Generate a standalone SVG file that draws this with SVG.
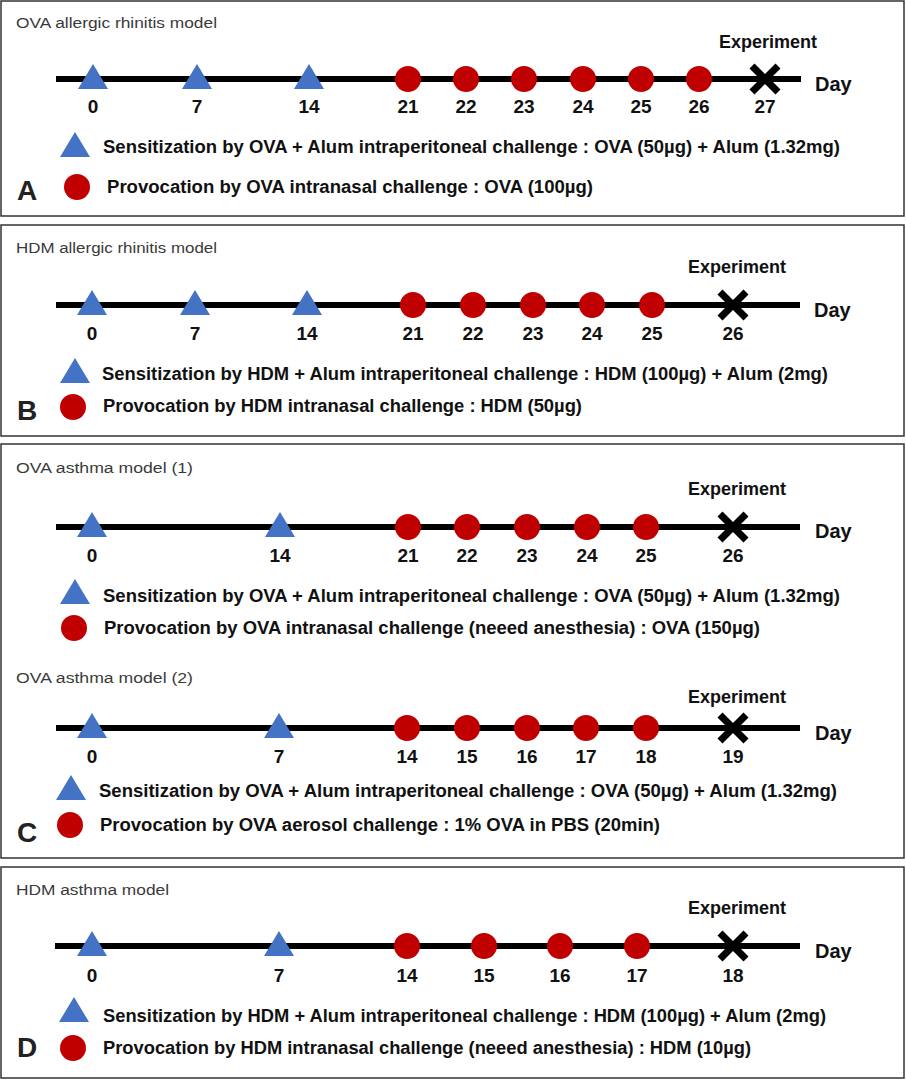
<svg xmlns="http://www.w3.org/2000/svg" xmlns:xlink="http://www.w3.org/1999/xlink" width="906" height="1080" viewBox="0 0 906 1080">
<style>
.box{fill:#fff;stroke:#333;stroke-width:1.5}
.title{font-family:"Liberation Sans",Arial,sans-serif;font-size:15.5px;fill:#3a3a3a}
.num{font-family:"Liberation Sans",Arial,sans-serif;font-size:19px;font-weight:bold;fill:#111;text-anchor:middle}
.exp{font-family:"Liberation Sans",Arial,sans-serif;font-size:18px;font-weight:bold;fill:#111;text-anchor:middle}
.day{font-family:"Liberation Sans",Arial,sans-serif;font-size:20px;font-weight:bold;fill:#111}
.leg{font-family:"Liberation Sans",Arial,sans-serif;font-size:17.5px;font-weight:bold;fill:#111}
.lab{font-family:"Liberation Sans",Arial,sans-serif;font-size:28px;font-weight:bold;fill:#222}
.tl{stroke:#000;stroke-width:6}
.xm{stroke:#000;stroke-width:7}
</style>
<defs>
<path id="tri" d="M0,-15 L15,10 L-15,10 Z" fill="#4472C4"/>
<circle id="dot" r="13" fill="#C00000"/>
<g id="xmark"><line class="xm" x1="-13" y1="-13" x2="13" y2="13"/><line class="xm" x1="13" y1="-13" x2="-13" y2="13"/></g>
</defs>
<rect width="906" height="1080" fill="#fff"/>

<!-- Panel A -->
<g id="panelA">
<rect class="box" x="1" y="1" width="903" height="215"/>
<text class="title" x="16" y="28" textLength="201" lengthAdjust="spacingAndGlyphs">OVA allergic rhinitis model</text>
<g id="A-connectors"><line class="tl" x1="56" y1="79" x2="801" y2="79"/></g>
<g id="A-d0"><use href="#tri" x="93" y="79"/><text class="num" x="93" y="113">0</text></g>
<g id="A-d7"><use href="#tri" x="197" y="79"/><text class="num" x="197" y="113">7</text></g>
<g id="A-d14"><use href="#tri" x="309" y="79"/><text class="num" x="309" y="113">14</text></g>
<g id="A-d21"><use href="#dot" x="408" y="79"/><text class="num" x="408" y="113">21</text></g>
<g id="A-d22"><use href="#dot" x="466" y="79"/><text class="num" x="466" y="113">22</text></g>
<g id="A-d23"><use href="#dot" x="524" y="79"/><text class="num" x="524" y="113">23</text></g>
<g id="A-d24"><use href="#dot" x="583" y="79"/><text class="num" x="583" y="113">24</text></g>
<g id="A-d25"><use href="#dot" x="641" y="79"/><text class="num" x="641" y="113">25</text></g>
<g id="A-d26"><use href="#dot" x="699" y="79"/><text class="num" x="699" y="113">26</text></g>
<g id="A-d27"><use href="#xmark" x="765" y="79"/><text class="num" x="765" y="113">27</text><text class="exp" x="768" y="48">Experiment</text></g>
<text class="day" x="815" y="91">Day</text>
<g id="A-leg1"><use href="#tri" x="75" y="147"/><text class="leg" x="103" y="153" textLength="737" lengthAdjust="spacingAndGlyphs">Sensitization by OVA + Alum intraperitoneal challenge : OVA (50µg) + Alum (1.32mg)</text></g>
<g id="A-leg2"><use href="#dot" x="77" y="187"/><text class="leg" x="107" y="193" textLength="486" lengthAdjust="spacingAndGlyphs">Provocation by OVA intranasal challenge : OVA (100µg)</text></g>
<text class="lab" x="17" y="200">A</text>
</g>

<!-- Panel B -->
<g id="panelB">
<rect class="box" x="1" y="225" width="903" height="211"/>
<text class="title" x="16" y="253" textLength="201" lengthAdjust="spacingAndGlyphs">HDM allergic rhinitis model</text>
<g id="B-connectors"><line class="tl" x1="56" y1="305" x2="800" y2="305"/></g>
<g id="B-d0"><use href="#tri" x="92" y="305"/><text class="num" x="92" y="340">0</text></g>
<g id="B-d7"><use href="#tri" x="195" y="305"/><text class="num" x="195" y="340">7</text></g>
<g id="B-d14"><use href="#tri" x="307" y="305"/><text class="num" x="307" y="340">14</text></g>
<g id="B-d21"><use href="#dot" x="413" y="305"/><text class="num" x="413" y="340">21</text></g>
<g id="B-d22"><use href="#dot" x="473" y="305"/><text class="num" x="473" y="340">22</text></g>
<g id="B-d23"><use href="#dot" x="533" y="305"/><text class="num" x="533" y="340">23</text></g>
<g id="B-d24"><use href="#dot" x="592" y="305"/><text class="num" x="592" y="340">24</text></g>
<g id="B-d25"><use href="#dot" x="652" y="305"/><text class="num" x="652" y="340">25</text></g>
<g id="B-d26"><use href="#xmark" x="733" y="305"/><text class="num" x="733" y="340">26</text><text class="exp" x="737" y="273">Experiment</text></g>
<text class="day" x="814" y="317">Day</text>
<g id="B-leg1"><use href="#tri" x="75" y="373"/><text class="leg" x="102" y="380" textLength="726" lengthAdjust="spacingAndGlyphs">Sensitization by HDM + Alum intraperitoneal challenge : HDM (100µg) + Alum (2mg)</text></g>
<g id="B-leg2"><use href="#dot" x="73" y="407"/><text class="leg" x="103" y="412" textLength="479" lengthAdjust="spacingAndGlyphs">Provocation by HDM intranasal challenge : HDM (50µg)</text></g>
<text class="lab" x="17" y="420">B</text>
</g>

<!-- Panel C -->
<g id="panelC">
<rect class="box" x="1" y="444" width="903" height="414"/>
<text class="title" x="16" y="473" textLength="177" lengthAdjust="spacingAndGlyphs">OVA asthma model (1)</text>
<g id="C1-connectors"><line class="tl" x1="56" y1="527" x2="800" y2="527"/></g>
<g id="C1-d0"><use href="#tri" x="92" y="527"/><text class="num" x="92" y="562">0</text></g>
<g id="C1-d14"><use href="#tri" x="280" y="527"/><text class="num" x="280" y="562">14</text></g>
<g id="C1-d21"><use href="#dot" x="408" y="527"/><text class="num" x="408" y="562">21</text></g>
<g id="C1-d22"><use href="#dot" x="467" y="527"/><text class="num" x="467" y="562">22</text></g>
<g id="C1-d23"><use href="#dot" x="527" y="527"/><text class="num" x="527" y="562">23</text></g>
<g id="C1-d24"><use href="#dot" x="587" y="527"/><text class="num" x="587" y="562">24</text></g>
<g id="C1-d25"><use href="#dot" x="646" y="527"/><text class="num" x="646" y="562">25</text></g>
<g id="C1-d26"><use href="#xmark" x="733" y="527"/><text class="num" x="733" y="562">26</text><text class="exp" x="737" y="495">Experiment</text></g>
<text class="day" x="815" y="538">Day</text>
<g id="C1-leg1"><use href="#tri" x="75" y="594"/><text class="leg" x="103" y="602" textLength="737" lengthAdjust="spacingAndGlyphs">Sensitization by OVA + Alum intraperitoneal challenge : OVA (50µg) + Alum (1.32mg)</text></g>
<g id="C1-leg2"><use href="#dot" x="74" y="628"/><text class="leg" x="104" y="634" textLength="656" lengthAdjust="spacingAndGlyphs">Provocation by OVA intranasal challenge (neeed anesthesia) : OVA (150µg)</text></g>

<text class="title" x="16" y="683" textLength="177" lengthAdjust="spacingAndGlyphs">OVA asthma model (2)</text>
<g id="C2-connectors"><line class="tl" x1="56" y1="728" x2="800" y2="728"/></g>
<g id="C2-d0"><use href="#tri" x="92" y="728"/><text class="num" x="92" y="763">0</text></g>
<g id="C2-d7"><use href="#tri" x="279" y="728"/><text class="num" x="279" y="763">7</text></g>
<g id="C2-d14"><use href="#dot" x="407" y="728"/><text class="num" x="407" y="763">14</text></g>
<g id="C2-d15"><use href="#dot" x="467" y="728"/><text class="num" x="467" y="763">15</text></g>
<g id="C2-d16"><use href="#dot" x="527" y="728"/><text class="num" x="527" y="763">16</text></g>
<g id="C2-d17"><use href="#dot" x="586" y="728"/><text class="num" x="586" y="763">17</text></g>
<g id="C2-d18"><use href="#dot" x="646" y="728"/><text class="num" x="646" y="763">18</text></g>
<g id="C2-d19"><use href="#xmark" x="733" y="728"/><text class="num" x="733" y="763">19</text><text class="exp" x="737" y="703">Experiment</text></g>
<text class="day" x="815" y="740">Day</text>
<g id="C2-leg1"><use href="#tri" x="71" y="790"/><text class="leg" x="99" y="797" textLength="738" lengthAdjust="spacingAndGlyphs">Sensitization by OVA + Alum intraperitoneal challenge : OVA (50µg) + Alum (1.32mg)</text></g>
<g id="C2-leg2"><use href="#dot" x="70" y="825"/><text class="leg" x="100" y="831" textLength="560" lengthAdjust="spacingAndGlyphs">Provocation by OVA aerosol challenge : 1% OVA in PBS (20min)</text></g>
<text class="lab" x="17" y="842">C</text>
</g>

<!-- Panel D -->
<g id="panelD">
<rect class="box" x="1" y="867" width="903" height="211"/>
<text class="title" x="16" y="895" textLength="153" lengthAdjust="spacingAndGlyphs">HDM asthma model</text>
<g id="D-connectors"><line class="tl" x1="55" y1="946" x2="800" y2="946"/></g>
<g id="D-d0"><use href="#tri" x="92" y="946"/><text class="num" x="92" y="982">0</text></g>
<g id="D-d7"><use href="#tri" x="279" y="946"/><text class="num" x="279" y="982">7</text></g>
<g id="D-d14"><use href="#dot" x="407" y="946"/><text class="num" x="407" y="982">14</text></g>
<g id="D-d15"><use href="#dot" x="484" y="946"/><text class="num" x="484" y="982">15</text></g>
<g id="D-d16"><use href="#dot" x="560" y="946"/><text class="num" x="560" y="982">16</text></g>
<g id="D-d17"><use href="#dot" x="637" y="946"/><text class="num" x="637" y="982">17</text></g>
<g id="D-d18"><use href="#xmark" x="733" y="946"/><text class="num" x="733" y="982">18</text><text class="exp" x="737" y="914">Experiment</text></g>
<text class="day" x="815" y="958">Day</text>
<g id="D-leg1"><use href="#tri" x="74" y="1012"/><text class="leg" x="103" y="1022" textLength="723" lengthAdjust="spacingAndGlyphs">Sensitization by HDM + Alum intraperitoneal challenge : HDM (100µg) + Alum (2mg)</text></g>
<g id="D-leg2"><use href="#dot" x="73" y="1048"/><text class="leg" x="103" y="1054" textLength="648" lengthAdjust="spacingAndGlyphs">Provocation by HDM intranasal challenge (neeed anesthesia) : HDM (10µg)</text></g>
<text class="lab" x="17" y="1057">D</text>
</g>
</svg>
